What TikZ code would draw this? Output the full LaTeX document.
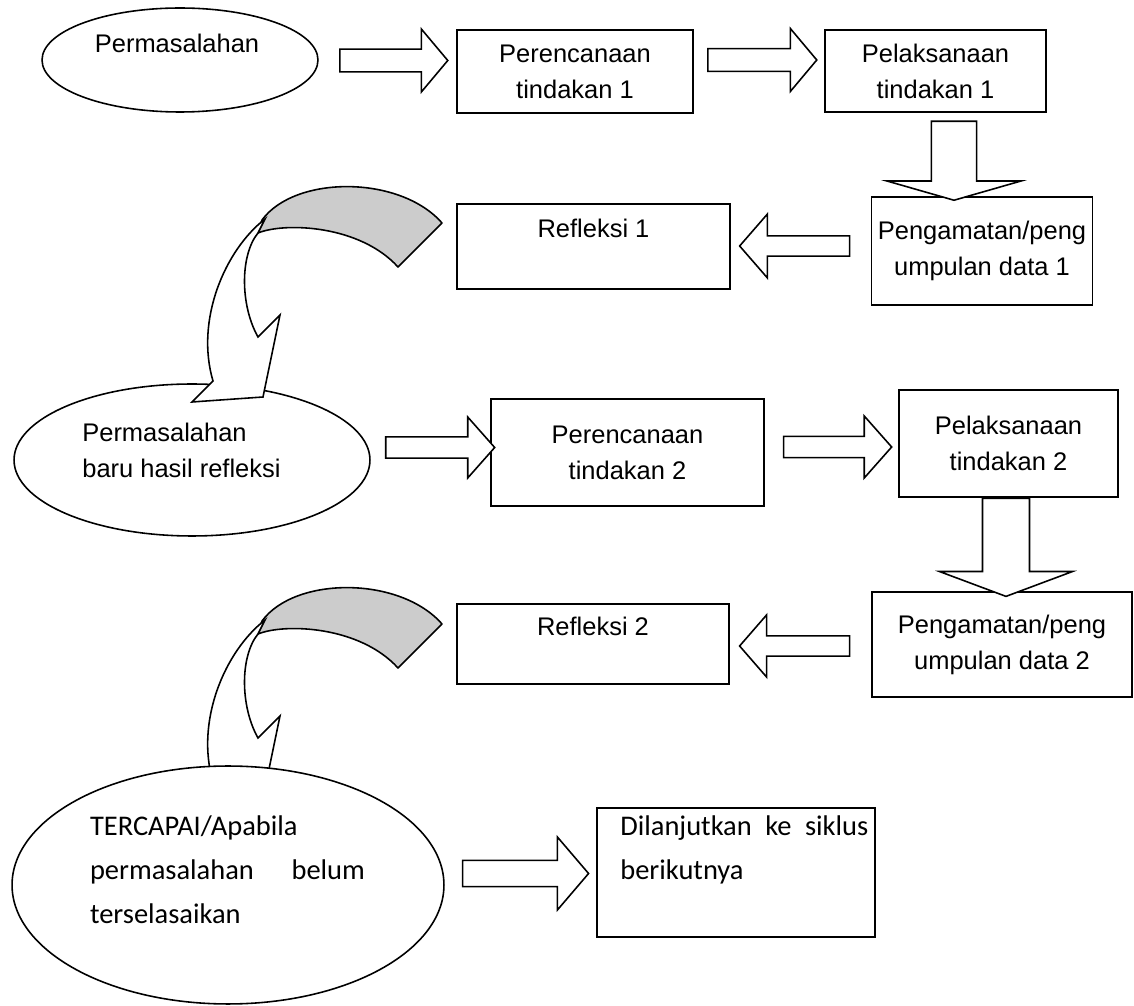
\documentclass[tikz,border=0pt]{standalone}
\usepackage{fontspec}
\setmainfont{Liberation Sans}
\newfontfamily\calibri{Carlito}
\usetikzlibrary{shapes.geometric,shapes.arrows}

\tikzset{
  bentarrow/.pic={
    % grey back of the band
    \filldraw[fill=black!20, line width=0.9pt, line join=round]
      (262,220) .. controls (295,175) and (400,175) .. (442,223)
      -- (398,267) .. controls (360,225) and (285,222) .. (258,233) -- cycle;
    % white front with the head
    \filldraw[fill=white, line width=0.9pt]
      (265,219) .. controls (225,250) and (195,320) .. (213,381)
      -- (192,402) -- (263,397) -- (280,315) -- (258,337)
      .. controls (240,305) and (240,255) .. (258,233) -- cycle;
  }
}

\begin{document}
\begin{tikzpicture}[x=0.02cm, y=-0.02cm,
    font=\fontsize{14.5}{20.5}\selectfont,
    box/.style={draw, line width=0.9pt, inner sep=0pt, align=center},
    ell/.style={draw, ellipse, fill=white, line width=0.9pt, inner sep=0pt},
    txt/.style={inner sep=0pt},
    cal/.style={inner sep=0pt, font=\calibri\fontsize{16.2}{25}\selectfont},
    barrow/.style={single arrow, draw, fill=white, line width=0.9pt,
      inner xsep=0pt, single arrow head indent=0pt}]
  \useasboundingbox (0,0) rectangle (1134,1006);

  % cycle 1
  \node[ell, minimum width=5.52cm, minimum height=2.08cm] (prob1) at (180,60) {};
  \node[txt] (prob1t) at (177,43) {Permasalahan};
  \node[box, minimum width=4.72cm, minimum height=1.66cm] (plan1) at (575,71.5) {Perencanaan\\tindakan 1};
  \node[box, minimum width=4.42cm, minimum height=1.64cm] (act1) at (935.5,71) {Pelaksanaan\\tindakan 1};
  \node[box, minimum width=4.42cm, minimum height=2.16cm] (obs1) at (982,251) {Pengamatan/peng\\umpulan data 1};
  \node[box, minimum width=5.46cm, minimum height=1.7cm] (ref1) at (593.5,246.5) {Refleksi 1\\\mbox{}};

  \node[barrow, minimum height=2.16cm, minimum width=1.26cm, inner ysep=0.16cm,
    single arrow head extend=0.31cm, single arrow tip angle=100] (a1) at (389,60.5) {};
  \node[barrow, minimum height=2.18cm, minimum width=1.26cm, inner ysep=0.16cm,
    single arrow head extend=0.31cm, single arrow tip angle=100] (a2) at (757.5,60) {};
  \node[barrow, rotate=-90, minimum height=1.58cm, minimum width=2.68cm, inner ysep=0.33cm,
    single arrow head extend=0.68cm, single arrow tip angle=148] (a3) at (954,157.5) {};
  \node[barrow, rotate=180, minimum height=2.2cm, minimum width=1.28cm, inner ysep=0.145cm,
    single arrow head extend=0.35cm, single arrow tip angle=98] (a4) at (799,246) {};

  % cycle 2
  \node[ell, minimum width=7.12cm, minimum height=3.04cm] (prob2) at (192,460) {};
  \node[txt, align=left, anchor=west] (prob2t) at (82,450) {Permasalahan\\baru hasil refleksi};
  \pic at (0,0) {bentarrow};
  \node[box, minimum width=5.46cm, minimum height=2.14cm] (plan2) at (627.5,452.5) {Perencanaan\\tindakan 2};
  \node[box, minimum width=4.38cm, minimum height=2.14cm] (act2) at (1008.5,443.5) {Pelaksanaan\\tindakan 2};
  \node[box, minimum width=5.2cm, minimum height=2.1cm] (obs2) at (1002,644.5) {Pengamatan/peng\\umpulan data 2};
  \node[box, minimum width=5.44cm, minimum height=1.6cm] (ref2) at (593,644) {Refleksi 2\\\mbox{}};

  \node[barrow, minimum height=2.18cm, minimum width=1.22cm, inner ysep=0.15cm,
    single arrow head extend=0.31cm, single arrow tip angle=97] (a5) at (435.5,447.5) {};
  \node[barrow, minimum height=2.16cm, minimum width=1.24cm, inner ysep=0.15cm,
    single arrow head extend=0.32cm, single arrow tip angle=97] (a6) at (833,447) {};
  \node[barrow, rotate=-90, minimum height=1.96cm, minimum width=2.66cm, inner ysep=0.34cm,
    single arrow head extend=0.65cm, single arrow tip angle=139] (a7) at (1006,543) {};
  \node[barrow, rotate=180, minimum height=2.2cm, minimum width=1.24cm, inner ysep=0.145cm,
    single arrow head extend=0.33cm, single arrow tip angle=98] (a8) at (799,646) {};

  % end
  \pic at (0,401) {bentarrow};
  \node[ell, minimum width=8.64cm, minimum height=4.76cm] (prob3) at (228,885) {};
  \node[cal, text width=5.5cm, align=justify] (prob3t) at (227.5,870)
    {TERCAPAI/Apabila\newline permasalahan belum\linebreak terselasaikan};
  \node[barrow, minimum height=2.52cm, minimum width=1.46cm, inner ysep=0.185cm,
    single arrow head extend=0.36cm, single arrow tip angle=99] (a9) at (520,873.5) {};
  \node[box, minimum width=5.56cm, minimum height=2.58cm] (next) at (736,872.5) {};
  \node[cal, text width=4.96cm, align=justify, anchor=north west] (nextt) at (620,815)
    {Dilanjutkan ke siklus\linebreak berikutnya};
\end{tikzpicture}
\end{document}
